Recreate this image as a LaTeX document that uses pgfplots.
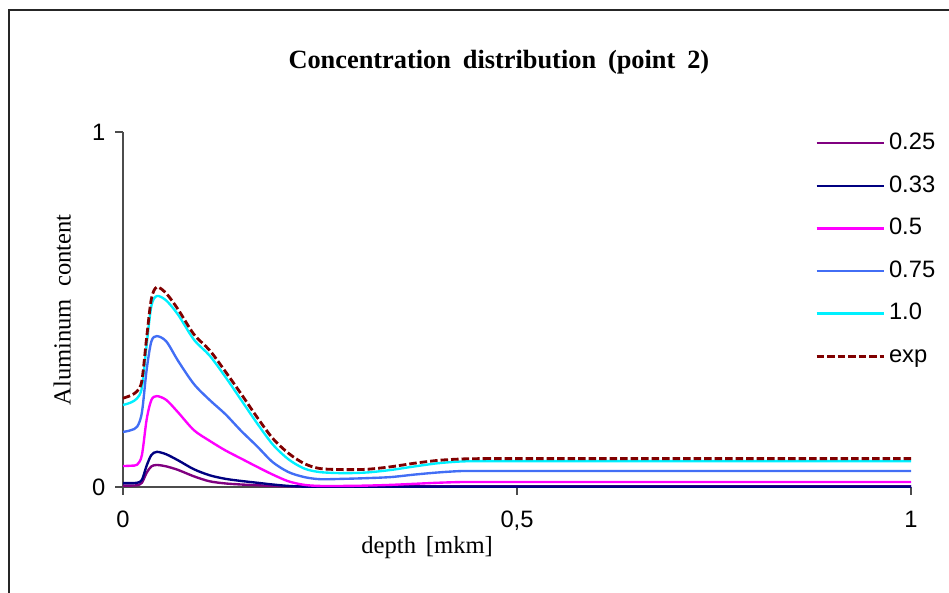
\documentclass[border=0pt]{standalone}
\usepackage{fontspec}
\setmainfont{Liberation Serif}
\newfontfamily\arial{Liberation Sans}
\usepackage{pgfplots}
\usepackage{pgfplotstable}
\pgfplotsset{compat=1.18}

\definecolor{c025}{RGB}{128,0,128}
\definecolor{c033}{RGB}{0,0,128}
\definecolor{c05}{RGB}{255,0,255}
\definecolor{c075}{RGB}{66,110,245}
\definecolor{c10}{RGB}{0,240,255}
\definecolor{cexp}{RGB}{128,0,0}

% depth [mkm] vs aluminum content
\pgfplotstableread{
x      p25    n33    m50    b75    c10    exp
0      0.004  0.011  0.059  0.155  0.231  0.250
0.010  0.004  0.011  0.060  0.160  0.238  0.258
0.018  0.005  0.012  0.063  0.170  0.250  0.270
0.024  0.012  0.020  0.090  0.210  0.280  0.300
0.030  0.040  0.060  0.190  0.330  0.400  0.420
0.036  0.058  0.090  0.245  0.410  0.510  0.530
0.043  0.062  0.099  0.256  0.425  0.538  0.563
0.055  0.058  0.092  0.245  0.410  0.525  0.545
0.070  0.048  0.075  0.210  0.355  0.485  0.500
0.090  0.030  0.050  0.160  0.290  0.415  0.430
0.110  0.016  0.033  0.130  0.245  0.370  0.385
0.130  0.010  0.023  0.103  0.205  0.310  0.325
0.150  0.007  0.017  0.080  0.158  0.245  0.262
0.170  0.005  0.012  0.057  0.115  0.180  0.197
0.190  0.003  0.007  0.035  0.070  0.120  0.137
0.210  0.002  0.003  0.016  0.042  0.078  0.095
0.230  0.002  0.001  0.006  0.028  0.052  0.066
0.250  0.002  0.001  0.003  0.022  0.042  0.052
0.280  0.002  0.001  0.003  0.023  0.039  0.049
0.310  0.002  0.001  0.004  0.025  0.041  0.050
0.340  0.002  0.001  0.006  0.028  0.048  0.057
0.370  0.002  0.001  0.009  0.035  0.058  0.067
0.400  0.002  0.001  0.012  0.041  0.067  0.075
0.430  0.002  0.001  0.014  0.045  0.072  0.079
0.460  0.002  0.001  0.014  0.045  0.073  0.080
0.500  0.002  0.001  0.014  0.045  0.073  0.080
1.000  0.002  0.001  0.014  0.045  0.073  0.080
}\datatable

\begin{document}
\begin{tikzpicture}
\useasboundingbox (-24.6mm,-21.2mm) rectangle (165.2mm,97.4mm);
\draw[line width=0.9pt, black!85] (-22.8mm,-21.2mm) -- (-22.8mm,95.4mm) -- (165.2mm,95.4mm);
\begin{axis}[
    anchor=origin, at={(0,0)},
    x=157.6mm, y=71mm,
    xmin=0, xmax=1, ymin=0, ymax=1,
    axis x line=bottom, axis y line=left,
    axis line style={-, black!70, line width=0.7pt},
    tick style={black!70, line width=0.7pt},
    tick align=outside,
    major tick length=1.5mm,
    xtick={0,0.5,1}, xticklabels={0,{0,5},1},
    ytick={0,1}, yticklabels={0,1},
    ticklabel style={font=\arial\fontsize{13.5}{16}\selectfont},
    xticklabel style={yshift=-2mm},
    yticklabel style={xshift=-0.8mm},
    /pgf/number format/assume math mode=true,
    title={\spaceskip=0.45em Concentration distribution (point 2)},
    title style={at={(axis description cs:0.477,1.166)}, anchor=center,
        font=\bfseries\fontsize{15}{18}\selectfont},
    xlabel={\spaceskip=0.4em depth [mkm]},
    xlabel style={at={(axis description cs:0.386,-0.172)}, anchor=center,
        font=\fontsize{14}{17}\selectfont},
    ylabel={\spaceskip=0.5em Aluminum content},
    ylabel style={at={(axis description cs:-0.077,0.499)}, anchor=center,
        font=\fontsize{14}{17}\selectfont},
    legend style={at={(axis description cs:0.878,1.006)}, anchor=north west,
        draw=none, fill=none, inner sep=0pt, row sep=3.3mm,
        font=\arial\fontsize{13.5}{16}\selectfont,
        nodes={inner xsep=0.8mm, inner ysep=0.5mm, text height=9.5pt, text depth=2.5pt}},
    legend cell align=left,
    legend image code/.code={\draw[#1] (0mm,0mm) -- (13.4mm,0mm);},
    clip=false,
    every axis plot/.append style={line width=1.35pt, smooth, no markers},
]
\addplot[c025] table[x=x, y=p25] {\datatable};
\addlegendentry{0.25}
\addplot[c033] table[x=x, y=n33] {\datatable};
\addlegendentry{0.33}
\addplot[c05] table[x=x, y=m50] {\datatable};
\addlegendentry{0.5}
\addplot[c075] table[x=x, y=b75] {\datatable};
\addlegendentry{0.75}
\addplot[c10] table[x=x, y=c10] {\datatable};
\addlegendentry{1.0}
\addplot[cexp, line width=1.6pt, dash pattern=on 1.5mm off 0.6mm] table[x=x, y=exp] {\datatable};
\addlegendentry{exp}
\end{axis}
\end{tikzpicture}
\end{document}
